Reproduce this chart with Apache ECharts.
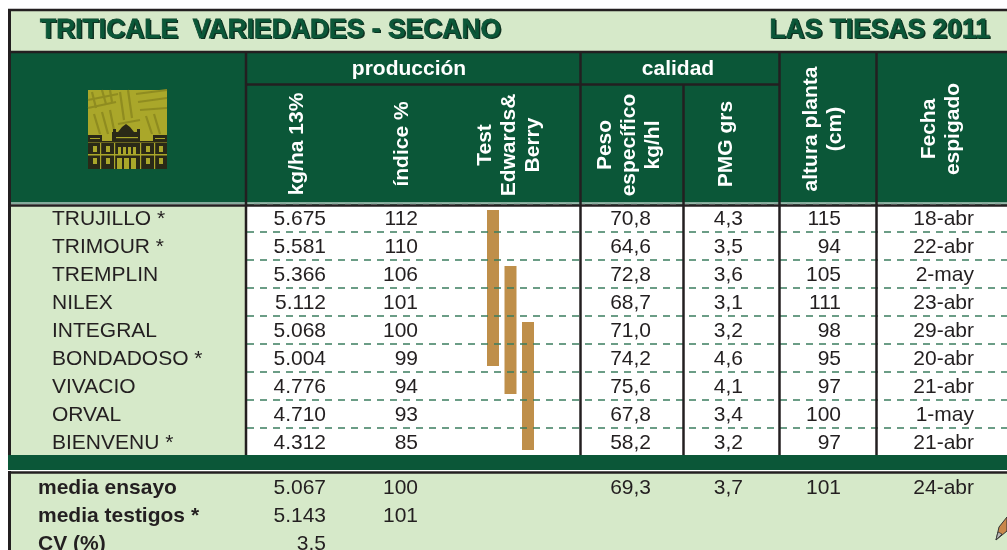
<!DOCTYPE html>
<html><head><meta charset="utf-8">
<script src="https://cdn.jsdelivr.net/npm/echarts@6/dist/echarts.min.js"></script>
<style>html,body{margin:0;padding:0;background:#fff}#c{width:1007px;height:550px}</style>
</head><body><div id="c"></div>
<script>
// ---- data ----
const varieties = ['TRUJILLO *','TRIMOUR *','TREMPLIN','NILEX','INTEGRAL','BONDADOSO *','VIVACIO','ORVAL','BIENVENU *'];
const yieldKg = [5675,5581,5366,5112,5068,5004,4776,4710,4312];
const indice = [112,110,106,101,100,99,94,93,85];
const pesoEsp = [70.8,64.6,72.8,68.7,71.0,74.2,75.6,67.8,58.2];
const pmg = [4.3,3.5,3.6,3.1,3.2,4.6,4.1,3.4,3.2];
const altura = [115,94,105,111,98,95,97,100,97];
const fecha = ['18-abr','22-abr','2-may','23-abr','29-abr','20-abr','21-abr','1-may','21-abr'];
// Edwards & Berry test groups (first and last variety of each group)
const testGroups = [['TRUJILLO *','BONDADOSO *'],['TREMPLIN','VIVACIO'],['INTEGRAL','BIENVENU *']];
const summaryLabels = ['media ensayo','media testigos *','CV (%)'];
const sumYield = [5067,5143,3.5];
const sumIndice = [100,101,null];
const sumPeso = [69.3,null,null];
const sumPmg = [3.7,null,null];
const sumAltura = [101,null,null];
const sumFecha = ['24-abr',null,null];
const titleLeft = 'TRITICALE  VARIEDADES - SECANO';
const titleRight = 'LAS TIESAS 2011';

// ---- styles ----
const DARK = '#0b5738', LIGHT = '#d6e9c9', INK = '#231f20', BAR = '#bf8f4a';
const FF = '"Liberation Sans", Arial, sans-serif';
const fnt = (s, b) => (b ? 'bold ' : '') + s + 'px ' + FF;
const thous = v => v >= 1000 ? Math.floor(v/1000) + '.' + String(v % 1000).padStart(3,'0') : String(v);
const comma1 = v => v.toFixed(1).replace('.', ',');
const plain = v => String(v);

function textCol(g, values, x, align, fmt, font) {
  const data = [];
  values.forEach((v, i) => { if (v !== null && v !== undefined) data.push([0, i]); });
  return {
    type: 'custom', xAxisIndex: g, yAxisIndex: g, data: data, z: 3,
    renderItem: (params, api) => {
      const i = api.value(1);
      const y = api.coord([0, i])[1];
      return { type: 'text', x: x, y: y + 1,
        style: { text: fmt(values[i]), font: font || fnt(21), fill: INK, align: align, verticalAlign: 'middle' } };
    }
  };
}

const barSeries = {
  type: 'custom', xAxisIndex: 0, yAxisIndex: 0, z: 2,
  data: testGroups.map((g, k) => [k, varieties.indexOf(g[0]), varieties.indexOf(g[1])]),
  renderItem: (params, api) => {
    const k = api.value(0);
    const band = api.size([0, 1])[1];
    const top = api.coord([0, api.value(1)])[1] - band * 0.29;
    const bot = api.coord([0, api.value(2)])[1] + band * 0.29;
    return { type: 'rect', shape: { x: 487 + k * 17.5, y: top, width: 12, height: bot - top }, style: { fill: BAR } };
  }
};

// ---- static frame ----
const G = [];
const rect = (x, y, w, h, fill, z) => G.push({ type: 'rect', shape: { x, y, width: w, height: h }, style: { fill }, z: z || 0, silent: true });
const line = (x1, y1, x2, y2, stroke, w, z) => G.push({ type: 'line', shape: { x1, y1, x2, y2 }, style: { stroke, lineWidth: w }, z: z || 100, silent: true });
const txt = (x, y, text, font, fill, align, rot, z) => G.push({ type: 'text', x, y, rotation: rot || 0,
  style: { text, font, fill, align: align || 'center', verticalAlign: 'middle', lineHeight: 24 }, z: z || 60, silent: true });

rect(11, 11, 996, 41, LIGHT);
rect(11, 53, 996, 151, DARK);
rect(11, 206, 234, 251, LIGHT);
rect(8, 455, 999, 15, DARK, 100);
rect(11, 473, 996, 77, LIGHT);

// title
const TF = fnt(28, true);
function title(x, text, align) {
  G.push({ type: 'text', x: x + 1.5, y: 31.5, scaleX: 0.945, style: { text, font: TF, fill: '#10301f', align, verticalAlign: 'middle' }, z: 60, silent: true });
  G.push({ type: 'text', x: x, y: 30, scaleX: 0.945, style: { text, font: TF, fill: DARK, stroke: '#0a3a26', lineWidth: 0.8, align, verticalAlign: 'middle' }, z: 61, silent: true });
}
title(40, titleLeft, 'left');
title(990, titleRight, 'right');

// borders
line(8, 10, 1007, 10, INK, 2.5);
line(8, 52, 1007, 52, INK, 2.5);
line(9.5, 9, 9.5, 455, INK, 3);
line(9.5, 471, 9.5, 550, INK, 3);
line(245, 84.5, 779, 84.5, INK, 2.5);
line(11, 203, 1007, 203, '#ffffff', 1);
line(8, 205.5, 1007, 205.5, INK, 2.5);
line(8, 470.5, 1007, 470.5, '#ffffff', 1);
line(8, 472.5, 1007, 472.5, INK, 2.5);
[[246, 53], [580.5, 53], [683.5, 84], [779.5, 53], [876.5, 53]].forEach(([x, y0]) => line(x, y0, x, 455, INK, 2.5));

// header texts
const HB = fnt(21, true);
txt(409, 69, 'producción', HB, '#fff');
txt(678, 69, 'calidad', HB, '#fff');
const R = Math.PI / 2;
txt(297, 144, 'kg/ha 13%', HB, '#fff', 'center', R);
txt(402, 144, 'índice %', HB, '#fff', 'center', R);
txt(509, 145, 'Test\nEdwards&\nBerry', HB, '#fff', 'center', R);
txt(629, 145, 'Peso\nespecífico\nkg/hl', HB, '#fff', 'center', R);
txt(726, 144, 'PMG grs', HB, '#fff', 'center', R);
txt(823, 129, 'altura planta\n(cm)', HB, '#fff', 'center', R);
txt(941, 129, 'Fecha\nespigado', HB, '#fff', 'center', R);

// logo (decorative emblem)
const LX = 88, LY = 90, OL = '#aaa72a', OD = '#8f8c20', BK = '#2a2917';
const lg = [];
lg.push({ type: 'rect', shape: { x: 0, y: 0, width: 79, height: 79 }, style: { fill: OL } });
const stripes = [[[0,10],[30,4]],[[0,18],[28,12]],[[32,2],[36,30]],[[40,0],[44,28]],[[48,4],[79,0]],[[50,12],[79,8]],[[52,20],[79,18]],[[6,24],[12,44]],[[14,22],[20,44]],[[22,20],[26,40]],[[58,26],[64,44]],[[66,24],[72,44]],[[30,34],[52,30]],[[4,2],[8,18]],[[14,0],[18,14]],[[22,0],[24,12]]];
stripes.forEach(s => lg.push({ type: 'line', shape: { x1: s[0][0], y1: s[0][1], x2: s[1][0], y2: s[1][1] }, style: { stroke: OD, lineWidth: 2.2 } }));
lg.push({ type: 'rect', shape: { x: 0, y: 53, width: 79, height: 26 }, style: { fill: BK } });
lg.push({ type: 'rect', shape: { x: 0, y: 45, width: 14, height: 6 }, style: { fill: BK } });
lg.push({ type: 'rect', shape: { x: 65, y: 45, width: 14, height: 6 }, style: { fill: BK } });
lg.push({ type: 'polygon', shape: { points: [[24,52],[24,42],[30,42],[34,37],[38,34],[42,37],[46,42],[52,42],[52,52]] }, style: { fill: BK } });
lg.push({ type: 'rect', shape: { x: 25, y: 39, width: 3, height: 4 }, style: { fill: BK } });
lg.push({ type: 'rect', shape: { x: 49, y: 39, width: 3, height: 4 }, style: { fill: BK } });
lg.push({ type: 'rect', shape: { x: 0, y: 51, width: 79, height: 1.5 }, style: { fill: BK } });
lg.push({ type: 'rect', shape: { x: 0, y: 64, width: 79, height: 1.5 }, style: { fill: OL } });
[[5,56],[18,56],[58,56],[71,56],[5,68],[18,68],[58,68],[71,68]].forEach(p => lg.push({ type: 'rect', shape: { x: p[0], y: p[1], width: 4, height: 6 }, style: { fill: OL } }));
[12,26,52,66].forEach(x => lg.push({ type: 'rect', shape: { x: x, y: 53, width: 1.2, height: 26 }, style: { fill: OL } }));
[30,35,40,45].forEach(x => lg.push({ type: 'rect', shape: { x: x, y: 57, width: 3, height: 7 }, style: { fill: OL } }));
[29,36,43].forEach(x => lg.push({ type: 'rect', shape: { x: x, y: 68, width: 5, height: 11 }, style: { fill: OL } }));
lg.push({ type: 'rect', shape: { x: 28, y: 47, width: 22, height: 1.2 }, style: { fill: OL } });
lg.push({ type: 'rect', shape: { x: 2, y: 48, width: 10, height: 1 }, style: { fill: OL } });
lg.push({ type: 'rect', shape: { x: 67, y: 48, width: 10, height: 1 }, style: { fill: OL } });
G.push({ type: 'group', x: LX, y: LY, children: lg, z: 20, silent: true });

// pen icon
G.push({ type: 'polygon', shape: { points: [[996,540],[999,527],[1007,517],[1007,531]] }, style: { fill: '#c8874a', stroke: '#333', lineWidth: 1 }, z: 30 });
G.push({ type: 'polygon', shape: { points: [[996,540],[998,532],[1002,534]] }, style: { fill: '#b8b8b8', stroke: '#333', lineWidth: 0.8 }, z: 31 });

const axisOff = { show: false };
const option = {
  animation: false,
  backgroundColor: '#ffffff',
  grid: [
    { left: 247, right: 0, top: 204, height: 252 },
    { left: 247, right: 0, top: 487, height: 56 }
  ],
  xAxis: [
    { type: 'value', gridIndex: 0, min: 0, max: 1, show: false },
    { type: 'value', gridIndex: 1, min: 0, max: 1, show: false }
  ],
  yAxis: [
    { type: 'category', gridIndex: 0, data: varieties, inverse: true, z: 5,
      axisLine: axisOff, axisTick: axisOff, axisLabel: axisOff,
      splitLine: { show: true, lineStyle: { color: '#3b7d5f', width: 1.5, type: [7, 6] } } },
    { type: 'category', gridIndex: 1, data: summaryLabels, inverse: true, boundaryGap: false,
      axisLine: axisOff, axisTick: axisOff, axisLabel: axisOff, splitLine: axisOff }
  ],
  graphic: { elements: G },
  series: [
    barSeries,
    textCol(0, varieties, 52, 'left', plain),
    textCol(0, yieldKg, 326, 'right', thous),
    textCol(0, indice, 418, 'right', plain),
    textCol(0, pesoEsp, 651, 'right', comma1),
    textCol(0, pmg, 743, 'right', comma1),
    textCol(0, altura, 841, 'right', plain),
    textCol(0, fecha, 974, 'right', plain),
    textCol(1, summaryLabels, 38, 'left', plain, fnt(21, true)),
    textCol(1, sumYield, 326, 'right', thous),
    textCol(1, sumIndice, 418, 'right', plain),
    textCol(1, sumPeso, 651, 'right', comma1),
    textCol(1, sumPmg, 743, 'right', comma1),
    textCol(1, sumAltura, 841, 'right', plain),
    textCol(1, sumFecha, 974, 'right', plain)
  ]
};
echarts.init(document.getElementById('c')).setOption(option);
</script></body></html>
